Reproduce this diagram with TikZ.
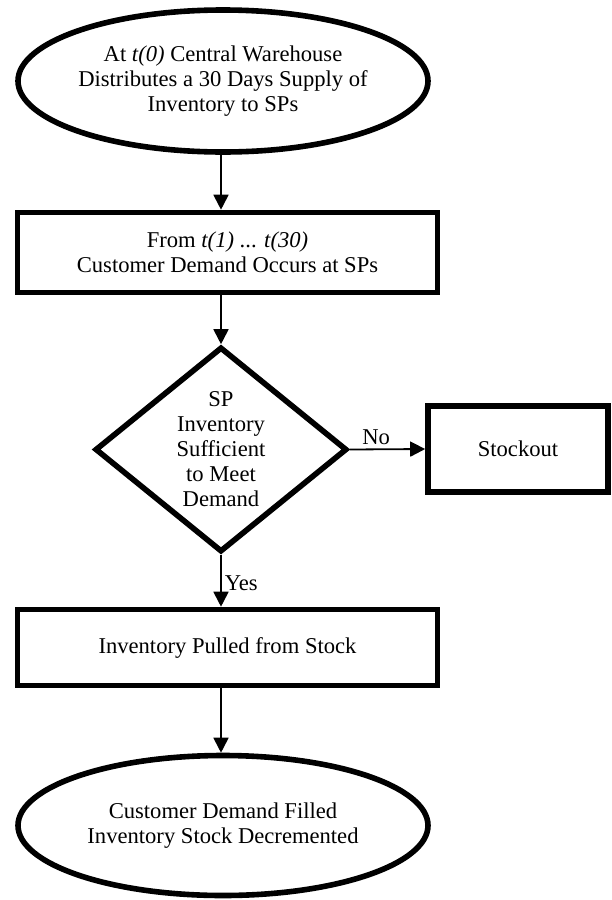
\documentclass[tikz,border=0pt]{standalone}
\usepackage{fontspec}
\setmainfont{Liberation Serif}
\usetikzlibrary{shapes.geometric, arrows.meta}

\begin{document}
\begin{tikzpicture}[x=0.5pt, y=-0.5pt,
	font=\fontsize{11.3}{12.5}\selectfont,
	term/.style={ellipse, draw, line width=2.8pt, minimum width=205pt, inner sep=0pt, align=center},
	stepbox/.style={rectangle, draw, line width=2.8pt, align=center},
	query/.style={diamond, draw, line width=2.8pt, aspect=1.23, minimum width=126pt, minimum height=102.5pt, inner sep=0pt, align=center},
	flow/.style={-{Triangle[width=7.5pt, length=7.5pt]}, line width=0.9pt}]
	\useasboundingbox (0,0) rectangle (611,900);
	% shapes
	\node [term, minimum height=71pt] (start) at (223,81) {At \textit{t(0)} Central Warehouse\\Distributes a 30 Days Supply of\\Inventory to SPs};
	\node [stepbox, minimum width=210pt, minimum height=40pt] (demand) at (227.5,252.5) {From \textit{t(1)} ... \textit{t(30)}\\Customer Demand Occurs at SPs};
	\node [query] (check) at (221,449.5) {SP\\Inventory\\Sufficient\\to Meet\\Demand};
	\node [stepbox, minimum width=90pt, minimum height=43.2pt] (stockout) at (518,449) {Stockout};
	\node [stepbox, minimum width=210pt, minimum height=38pt] (pull) at (227.5,647.5) {Inventory Pulled from Stock};
	\node [term, minimum height=70pt] (filled) at (223,825.5) {Customer Demand Filled\\Inventory Stock Decremented};
	% arrows
	\draw [flow] (start.south -| check) -- (demand.north -| check);
	\draw [flow] (demand.south -| check) -- (check.north);
	\draw [flow] (check.east) -- node [above, pos=0.35, inner sep=2pt] (no) {No} (stockout.west);
	\draw [flow] (check.south) -- node [right, pos=0.55, inner sep=1.5pt] (yes) {Yes} (pull.north -| check);
	\draw [flow] (pull.south -| check) -- (filled.north -| check);
\end{tikzpicture}
\end{document}
